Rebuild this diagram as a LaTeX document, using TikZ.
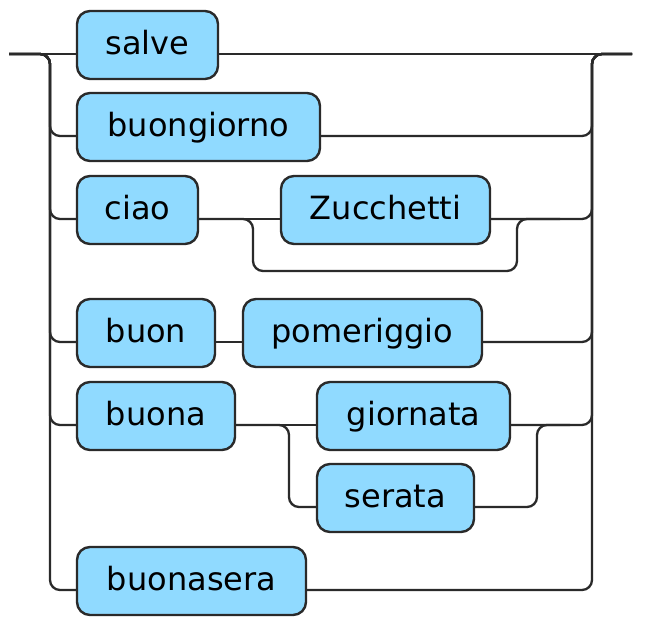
\documentclass[tikz,border=0pt]{standalone}
\usepackage{fontspec}
\setmainfont{DejaVu Sans}
\definecolor{boxfill}{HTML}{90DAFF}
\definecolor{linecol}{HTML}{2A2A2A}
\begin{document}
\begin{tikzpicture}[x=1pt,y=-1pt,
  term/.style={draw=linecol, fill=boxfill, line width=2.4pt, rounded corners=13pt,
    inner sep=0pt, text height=43pt, text depth=25pt, anchor=base,
    font=\fontsize{32}{38}\selectfont},
  rail/.style={draw=linecol, line width=2.3pt, rounded corners=10pt}]
\useasboundingbox (0,0) rectangle (657,629);
% terminals
\node[term, minimum width=141pt] (salve) at (147.5,54) {salve};
\node[term, minimum width=243pt] (buongiorno) at (198.5,136) {buongiorno};
\node[term, minimum width=121pt] (ciao) at (137.5,219) {ciao};
\node[term, minimum width=209pt] (zucchetti) at (385.5,219) {Zucchetti};
\node[term, minimum width=138pt] (buon) at (146,342) {buon};
\node[term, minimum width=239pt] (pomeriggio) at (362.5,342) {pomeriggio};
\node[term, minimum width=158pt] (buona) at (156,425) {buona};
\node[term, minimum width=193pt] (giornata) at (413.5,425) {giornata};
\node[term, minimum width=157pt] (serata) at (395.5,507) {serata};
\node[term, minimum width=229pt] (buonasera) at (191.5,590) {buonasera};
% end points
\coordinate (in) at (9,54);
\coordinate (out) at (632,54);
\coordinate (lrail) at (50,54);
\coordinate (rrail) at (592,54);
% main line
\draw[rail] (in) -- (salve.base west);
\draw[rail] (salve.base east) -- (out);
% left branches
\foreach \n in {buongiorno,ciao,buon,buona,buonasera}
  \draw[rail] (in) -- (lrail) |- (\n.base west);
% right branches
\foreach \n in {buongiorno,zucchetti,pomeriggio,giornata,buonasera}
  \draw[rail] (\n.base east) -| (rrail) -- (out);
% inner connections
\draw[rail] (ciao.base east) -- (zucchetti.base west);
\draw[rail] (ciao.base east) -| (253,271) -| (517,219) -- (560,219);
\draw[rail] (buon.base east) -- (pomeriggio.base west);
\draw[rail] (buona.base east) -- (giornata.base west);
\draw[rail] (buona.base east) -| (289,507) -- (serata.base west);
\draw[rail] (serata.base east) -| (537,425) -- (570,425);
\end{tikzpicture}
\end{document}
